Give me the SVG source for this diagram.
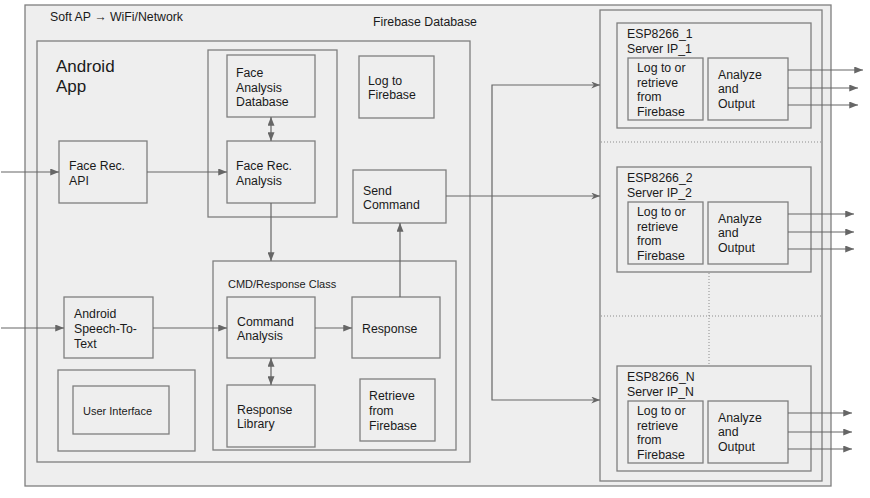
<svg xmlns="http://www.w3.org/2000/svg" width="870" height="498" viewBox="0 0 870 498">
<defs>
<style>
.bx{fill:#eeeeee;stroke:#7f7f7f;stroke-width:1.3}
.t{font-family:"Liberation Sans",Arial,sans-serif;font-size:12.3px;fill:#1a1a1a}
.s{font-size:11px}
.big{font-size:17px}
.c{fill:none;stroke:#666666;stroke-width:1.2}
.d{fill:none;stroke:#8c8c8c;stroke-width:1;stroke-dasharray:1 2}
</style>
<marker id="ah" viewBox="0 0 10 8" refX="10" refY="4" markerWidth="10" markerHeight="7" markerUnits="userSpaceOnUse" orient="auto-start-reverse">
<path d="M0,0 L10,4 L0,8 z" fill="#666666"/>
</marker>
<marker id="an" viewBox="0 0 10 8" refX="10" refY="4" markerWidth="9" markerHeight="7" markerUnits="userSpaceOnUse" orient="auto">
<path d="M0,0 L10,4 L0,8 L3,4 z" fill="#666666"/>
</marker>
</defs>
<rect width="870" height="498" fill="#ffffff"/>

<g id="firebase-database">
<rect class="bx" x="25" y="5" width="806" height="481"/>
<text class="t" x="50" y="21">Soft AP → WiFi/Network</text>
<text class="t" x="373" y="26">Firebase Database</text>
</g>

<g id="android-app">
<rect class="bx" x="37" y="41" width="433" height="421"/>
<text class="t big" x="56" y="72">Android</text>
<text class="t big" x="56" y="92">App</text>
</g>

<g id="face-group">
<rect class="bx" x="208" y="50" width="129" height="167"/>
</g>

<g id="face-analysis-database">
<rect class="bx" x="227" y="55" width="88" height="62"/>
<text class="t" x="236" y="77">Face</text>
<text class="t" x="236" y="91.5">Analysis</text>
<text class="t" x="236" y="106">Database</text>
</g>

<g id="face-rec-analysis">
<rect class="bx" x="227" y="141" width="88" height="62"/>
<text class="t" x="236" y="170">Face Rec.</text>
<text class="t" x="236" y="185">Analysis</text>
</g>

<g id="face-rec-api">
<rect class="bx" x="59" y="141" width="88" height="62"/>
<text class="t" x="69" y="170">Face Rec.</text>
<text class="t" x="69" y="185">API</text>
</g>

<g id="log-to-firebase">
<rect class="bx" x="359" y="56" width="75" height="62"/>
<text class="t" x="368" y="84.5">Log to</text>
<text class="t" x="368" y="99">Firebase</text>
</g>

<g id="send-command">
<rect class="bx" x="353" y="170" width="93" height="53"/>
<text class="t" x="363" y="194.5">Send</text>
<text class="t" x="363" y="208.5">Command</text>
</g>

<g id="cmd-response-class">
<rect class="bx" x="213" y="261" width="243" height="189"/>
<text class="t s" x="228" y="288">CMD/Response Class</text>
</g>

<g id="command-analysis">
<rect class="bx" x="227" y="297" width="88" height="61"/>
<text class="t" x="237" y="325.5">Command</text>
<text class="t" x="237" y="340">Analysis</text>
</g>

<g id="response">
<rect class="bx" x="352" y="297" width="88" height="61"/>
<text class="t" x="362" y="332.5">Response</text>
</g>

<g id="response-library">
<rect class="bx" x="227" y="385" width="88" height="62"/>
<text class="t" x="237" y="413.5">Response</text>
<text class="t" x="237" y="428">Library</text>
</g>

<g id="retrieve-from-firebase">
<rect class="bx" x="360" y="379" width="75" height="62"/>
<text class="t" x="369" y="400">Retrieve</text>
<text class="t" x="369" y="415">from</text>
<text class="t" x="369" y="430">Firebase</text>
</g>

<g id="speech-to-text">
<rect class="bx" x="64" y="297" width="89" height="61"/>
<text class="t" x="74" y="318">Android</text>
<text class="t" x="74" y="333">Speech-To-</text>
<text class="t" x="74" y="347.5">Text</text>
</g>

<g id="user-interface">
<rect class="bx" x="58" y="370" width="137" height="81"/>
<rect class="bx" x="73" y="386" width="96" height="48"/>
<text class="t s" x="83" y="415">User Interface</text>
</g>

<g id="servers">
<rect class="bx" x="600" y="10" width="222" height="471"/>
<line class="d" x1="601" y1="142" x2="821" y2="142"/>
<line class="d" x1="601" y1="316" x2="821" y2="316"/>
<line class="d" x1="709" y1="273" x2="709" y2="365"/>
</g>

<g id="esp8266-1">
<rect class="bx" x="617" y="23" width="194" height="105"/>
<text class="t" x="627" y="38">ESP8266_1</text>
<text class="t" x="627" y="53">Server IP_1</text>
<rect class="bx" x="628" y="58" width="75" height="62"/>
<text class="t" x="637" y="72">Log to or</text>
<text class="t" x="637" y="86.5">retrieve</text>
<text class="t" x="637" y="101">from</text>
<text class="t" x="637" y="116">Firebase</text>
<rect class="bx" x="708" y="58" width="80" height="62"/>
<text class="t" x="718" y="78.5">Analyze</text>
<text class="t" x="718" y="93">and</text>
<text class="t" x="718" y="108">Output</text>
</g>

<g id="esp8266-2">
<rect class="bx" x="617" y="167" width="194" height="105"/>
<text class="t" x="627" y="182">ESP8266_2</text>
<text class="t" x="627" y="197">Server IP_2</text>
<rect class="bx" x="628" y="202" width="75" height="62"/>
<text class="t" x="637" y="216">Log to or</text>
<text class="t" x="637" y="230.5">retrieve</text>
<text class="t" x="637" y="245">from</text>
<text class="t" x="637" y="260">Firebase</text>
<rect class="bx" x="708" y="202" width="80" height="62"/>
<text class="t" x="718" y="222.5">Analyze</text>
<text class="t" x="718" y="237">and</text>
<text class="t" x="718" y="252">Output</text>
</g>

<g id="esp8266-n">
<rect class="bx" x="617" y="366" width="194" height="105"/>
<text class="t" x="627" y="381">ESP8266_N</text>
<text class="t" x="627" y="396">Server IP_N</text>
<rect class="bx" x="628" y="401" width="75" height="62"/>
<text class="t" x="637" y="415">Log to or</text>
<text class="t" x="637" y="429.5">retrieve</text>
<text class="t" x="637" y="444">from</text>
<text class="t" x="637" y="459">Firebase</text>
<rect class="bx" x="708" y="401" width="80" height="62"/>
<text class="t" x="718" y="421.5">Analyze</text>
<text class="t" x="718" y="436">and</text>
<text class="t" x="718" y="451">Output</text>
</g>

<g id="connectors">
<line class="c" x1="1" y1="172" x2="59" y2="172" marker-end="url(#ah)"/>
<line class="c" x1="147" y1="172" x2="227" y2="172" marker-end="url(#ah)"/>
<line class="c" x1="271" y1="117" x2="271" y2="141" marker-start="url(#ah)" marker-end="url(#ah)"/>
<line class="c" x1="271" y1="203" x2="271" y2="261" marker-end="url(#ah)"/>
<line class="c" x1="1" y1="328" x2="64" y2="328" marker-end="url(#ah)"/>
<line class="c" x1="153" y1="328" x2="227" y2="328" marker-end="url(#ah)"/>
<line class="c" x1="315" y1="328" x2="352" y2="328" marker-end="url(#ah)"/>
<line class="c" x1="271" y1="358" x2="271" y2="385" marker-start="url(#ah)" marker-end="url(#ah)"/>
<line class="c" x1="400" y1="297" x2="400" y2="223" marker-end="url(#ah)"/>
<line class="c" x1="446" y1="196" x2="600" y2="196" marker-end="url(#an)"/>
<polyline class="c" points="492,196 492,85 600,85" marker-end="url(#an)"/>
<polyline class="c" points="492,196 492,400 600,400" marker-end="url(#an)"/>
<line class="c" x1="788" y1="70" x2="863" y2="70" marker-end="url(#ah)"/>
<line class="c" x1="788" y1="88" x2="858" y2="88" marker-end="url(#ah)"/>
<line class="c" x1="788" y1="105" x2="858" y2="105" marker-end="url(#ah)"/>
<line class="c" x1="788" y1="214" x2="854" y2="214" marker-end="url(#ah)"/>
<line class="c" x1="788" y1="232" x2="854" y2="232" marker-end="url(#ah)"/>
<line class="c" x1="788" y1="249" x2="854" y2="249" marker-end="url(#ah)"/>
<line class="c" x1="788" y1="413" x2="852" y2="413" marker-end="url(#ah)"/>
<line class="c" x1="788" y1="432" x2="852" y2="432" marker-end="url(#ah)"/>
<line class="c" x1="788" y1="449" x2="852" y2="449" marker-end="url(#ah)"/>
</g>
</svg>
